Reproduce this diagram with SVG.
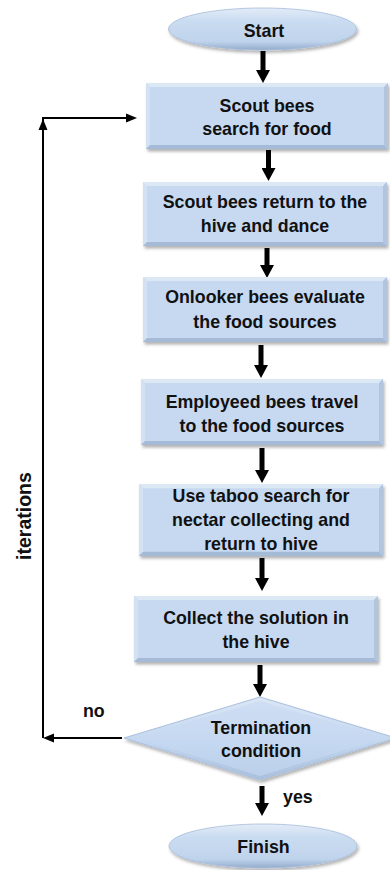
<svg xmlns="http://www.w3.org/2000/svg" xmlns:xlink="http://www.w3.org/1999/xlink" width="390" height="870" viewBox="0 0 390 870">
<style>
.t{font-family:"Liberation Sans",Arial,sans-serif;font-weight:bold;font-size:17.8px;fill:#111;text-anchor:middle}
.l{font-family:"Liberation Sans",Arial,sans-serif;font-weight:bold;font-size:17.8px;fill:#111}
.thick{stroke:#000;stroke-width:5;fill:none;marker-end:url(#mThick)}
.thin{stroke:#000;stroke-width:2;fill:none}
.thinA{marker-end:url(#mThin)}
</style>
<defs>
<marker id="mThick" markerUnits="userSpaceOnUse" markerWidth="14" markerHeight="14" refX="3" refY="7" orient="auto"><path d="M0,0 L13,7 L0,14 Z" fill="#000"/></marker>
<marker id="mThin" markerUnits="userSpaceOnUse" markerWidth="11" markerHeight="10" refX="5" refY="5" orient="auto"><path d="M0,0.5 L11,5 L0,9.5 Z" fill="#000"/></marker>
<filter id="sh" x="-5%" y="-10%" width="115%" height="130%"><feDropShadow dx="1.5" dy="2.5" stdDeviation="1.5" flood-color="#000" flood-opacity="0.3"/></filter>
<symbol id="box" viewBox="0 0 244 66" preserveAspectRatio="none">
<rect x="0" y="0" width="244" height="66" fill="#c6d9f1"/>
<polygon points="0,0 244,0 240,4 4,4" fill="#dde8f5"/>
<polygon points="0,0 4,4 4,62 0,66" fill="#d3e1f2"/>
<polygon points="0,66 4,62 240,62 244,66" fill="#a4bad6"/>
<polygon points="244,0 244,66 240,62 240,4" fill="#b2c5de"/>
</symbol>
<linearGradient id="gEl" x1="0" y1="0" x2="0" y2="1">
<stop offset="0" stop-color="#e3ecf8"/>
<stop offset="0.3" stop-color="#cadcf1"/>
<stop offset="0.8" stop-color="#bfd3ec"/>
<stop offset="1" stop-color="#93abcb"/>
</linearGradient>
<linearGradient id="gDi" x1="0" y1="0" x2="0" y2="1">
<stop offset="0" stop-color="#dbe6f5"/>
<stop offset="0.5" stop-color="#c6d9f1"/>
<stop offset="1" stop-color="#a9bfdc"/>
</linearGradient>
</defs>
<rect width="390" height="870" fill="#fff"/>

<g id="connectors">
<line class="thick" x1="263" y1="51" x2="263" y2="73"/>
<line class="thick" x1="268.5" y1="150" x2="268.5" y2="171"/>
<line class="thick" x1="267" y1="248" x2="267" y2="268"/>
<line class="thick" x1="261" y1="345" x2="261" y2="368"/>
<line class="thick" x1="262" y1="448" x2="262" y2="473"/>
<line class="thick" x1="262" y1="558" x2="262" y2="581"/>
<line class="thick" x1="260" y1="665" x2="260" y2="687"/>
<line class="thick" x1="262" y1="786" x2="262" y2="806"/>
<path class="thin thinA" d="M122,738 H49"/>
<path class="thin" d="M43,738 V118"/>
<path class="thin thinA" d="M43,738 V125"/>
<path class="thin thinA" d="M42,118 H131"/>
<text class="l" x="83" y="717">no</text>
<text class="l" x="283" y="803">yes</text>
<text class="t" transform="translate(31,516) rotate(-90)" style="font-size:19.5px">iterations</text>
</g>

<g id="start">
<ellipse cx="262.5" cy="29" rx="94" ry="21" fill="url(#gEl)" stroke="#a6bcd9" stroke-width="0.8" filter="url(#sh)"/>
<text class="t" x="264" y="37">Start</text>
</g>

<g id="n1">
<use xlink:href="#box" href="#box" x="146" y="83" width="242" height="66" filter="url(#sh)"/>
<text class="t" x="267" y="112">Scout bees</text>
<text class="t" x="267" y="135">search for food</text>
</g>

<g id="n2">
<use xlink:href="#box" href="#box" x="143" y="182" width="244" height="64" filter="url(#sh)"/>
<text class="t" x="265" y="208">Scout bees return to the</text>
<text class="t" x="265" y="232">hive and dance</text>
</g>

<g id="n3">
<use xlink:href="#box" href="#box" x="143" y="277" width="244" height="65" filter="url(#sh)"/>
<text class="t" x="265" y="303">Onlooker bees evaluate</text>
<text class="t" x="265" y="328">the food sources</text>
</g>

<g id="n4">
<use xlink:href="#box" href="#box" x="141" y="379" width="242" height="66" filter="url(#sh)"/>
<text class="t" x="262" y="408">Employeed bees travel</text>
<text class="t" x="262" y="432">to the food sources</text>
</g>

<g id="n5">
<use xlink:href="#box" href="#box" x="139" y="484" width="244" height="72" filter="url(#sh)"/>
<text class="t" x="261" y="502">Use taboo search for</text>
<text class="t" x="261" y="526">nectar collecting and</text>
<text class="t" x="261" y="550">return to hive</text>
</g>

<g id="n6">
<use xlink:href="#box" href="#box" x="134" y="596" width="244" height="66" filter="url(#sh)"/>
<text class="t" x="256" y="624">Collect the solution in</text>
<text class="t" x="256" y="648">the hive</text>
</g>

<g id="decision">
<polygon points="260,697 396,738 260,780 124,738" fill="url(#gDi)" stroke="#a9bfdc" stroke-width="1" filter="url(#sh)"/>
<polygon points="260,701 384,738 260,776 136,738" fill="#c6d9f1" opacity="0.6"/>
<text class="t" x="261" y="734">Termination</text>
<text class="t" x="261" y="757">condition</text>
</g>

<g id="finish">
<ellipse cx="263" cy="846" rx="94" ry="22" fill="url(#gEl)" stroke="#a6bcd9" stroke-width="0.8" filter="url(#sh)"/>
<text class="t" x="263.5" y="853">Finish</text>
</g>
</svg>
